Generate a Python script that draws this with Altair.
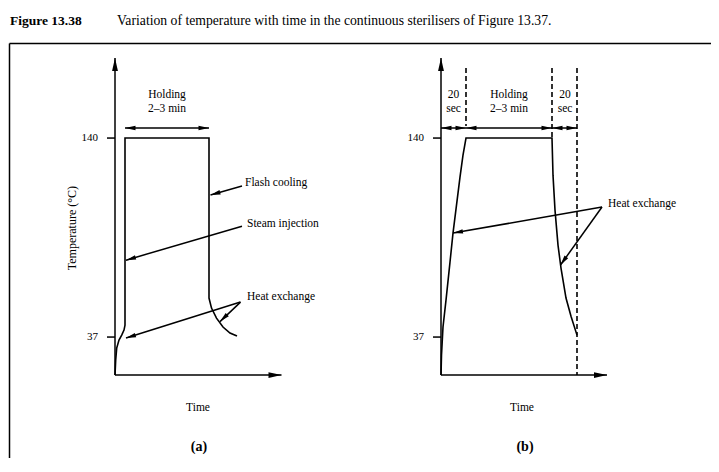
import math
import altair as alt
import pandas as pd

# ---------------- values ----------------
# x: schematic time units (both panels on one time line), y: temperature (°C)
X_DOMAIN = [0, 702]
Y_DOMAIN = [-25.6, 189.2]
TICK_TEMPS = [140, 37]

# panel frames (origin of time axis, base level, arrow tips)
PANEL_X0 = [106, 432]
PANEL_XEND = [272.5, 598]
BASE_T = 17.3
TOP_T = 181.4
TICK_START = [98, 424]
TICK_LABEL_X = [89, 415]

# temperature profile (a): heat exchange + steam injection, holding, flash cooling, heat exchange
curve_a_x = [106, 106.7, 107.7, 110, 112.7, 115, 116, 116, 200, 200, 202.5, 207.5, 214, 221, 228]
curve_a_y = [17.3, 25.1, 31.3, 35.4, 38.0, 40.6, 43.2, 140, 140, 57.2, 52.0, 46.8, 42.2, 39.1, 37.5]
# temperature profile (b): heat exchange up, holding, heat exchange down
curve_b_x = [432, 432.5, 434, 437, 441, 444, 447.5, 451, 454, 457, 543, 544, 546, 549, 552, 557, 562, 568]
curve_b_y = [17.3, 27.7, 42.2, 56.1, 75.8, 90.8, 105.3, 119.8, 131.2, 140, 140, 120.8, 102.7, 84.6,
             72.7, 57.2, 47.8, 38.0]

# dashed phase boundaries in (b)
dash_x = [457, 543, 568]
dash_top = [176.2, 176.2, 176.2]
dash_bottom = [146.2, 140, 17.3]

# double-headed span arrows (holding / 20 sec)
span_from = [116, 432, 457, 543]
span_to = [200, 457, 543, 568]
SPAN_T = 145.2

# annotation arrows: from label to curve
ann_x1 = [233, 233, 231.5, 231.5, 593, 593]
ann_y1 = [115.2, 94.4, 55.1, 55.1, 104.3, 104.3]
ann_x2 = [201.5, 117, 117, 211, 444, 551.5]
ann_y2 = [110.5, 76.8, 36.5, 45.0, 90.8, 74.3]

# texts
center_text = ["Holding", "2–3 min", "20", "sec", "Holding", "2–3 min", "20", "sec", "Time", "Time"]
center_x = [158, 158, 444.5, 444.5, 500, 500, 556, 556, 189, 513]
center_y = [162.3, 154.8, 162.3, 154.8, 162.3, 154.8, 162.3, 154.8, 0.5, 0.5]

left_text = ["Flash cooling", "Steam injection", "Heat exchange", "Heat exchange"]
left_x = [236, 238, 238, 599]
left_y = [116.7, 95.5, 57.7, 105.8]

panel_text = ["(a)", "(b)"]
panel_x = [190, 516]
panel_y = [-20.0, -20.0]

y_title = "Temperature (°C)"
y_title_pos = (63, 93.4)

caption_bold = "Figure 13.38"
caption_text = "Variation of temperature with time in the continuous sterilisers of Figure 13.37."
caption_x = [1, 108]
caption_y = 200.6

# ---------------- build tables ----------------
WIDTH, HEIGHT = 702, 415
SX = WIDTH / (X_DOMAIN[1] - X_DOMAIN[0])
SY = HEIGHT / (Y_DOMAIN[1] - Y_DOMAIN[0])

lines = pd.DataFrame(
    [{"path": "a", "order": i, "x": x, "y": y} for i, (x, y) in enumerate(zip(curve_a_x, curve_a_y))]
    + [{"path": "b", "order": i, "x": x, "y": y} for i, (x, y) in enumerate(zip(curve_b_x, curve_b_y))]
)

rules = []
heads = []


def head_angle(x1, y1, x2, y2):
    dx = (x2 - x1) * SX
    dy = (y2 - y1) * SY
    return math.degrees(math.atan2(dx, dy)) % 360


for x0, xe in zip(PANEL_X0, PANEL_XEND):
    rules.append({"x": x0, "y": BASE_T, "x2": x0, "y2": TOP_T})
    rules.append({"x": x0, "y": BASE_T, "x2": xe, "y2": BASE_T})
    heads.append({"x": x0, "y": TOP_T, "angle": 0, "size": 169})
    heads.append({"x": xe, "y": BASE_T, "angle": 90, "size": 169})
for ts, x0 in zip(TICK_START, PANEL_X0):
    for t in TICK_TEMPS:
        rules.append({"x": ts, "y": t, "x2": x0, "y2": t})
for a, b in zip(span_from, span_to):
    rules.append({"x": a, "y": SPAN_T, "x2": b, "y2": SPAN_T})
    heads.append({"x": a, "y": SPAN_T, "angle": 270, "size": 110})
    heads.append({"x": b, "y": SPAN_T, "angle": 90, "size": 110})
for x1, y1, x2, y2 in zip(ann_x1, ann_y1, ann_x2, ann_y2):
    rules.append({"x": x1, "y": y1, "x2": x2, "y2": y2})
    heads.append({"x": x2, "y": y2, "angle": head_angle(x1, y1, x2, y2), "size": 100})

rules = pd.DataFrame(rules)
heads = pd.DataFrame(heads)
dashes = pd.DataFrame({"x": dash_x, "y": dash_top, "x2": dash_x, "y2": dash_bottom})

ticks = pd.DataFrame(
    [{"x": lx, "y": t, "label": str(t)} for lx in TICK_LABEL_X for t in TICK_TEMPS]
)
centers = pd.DataFrame({"x": center_x, "y": center_y, "label": center_text})
lefts = pd.DataFrame({"x": left_x, "y": left_y, "label": left_text})
panels = pd.DataFrame({"x": panel_x, "y": panel_y, "label": panel_text})
ytitle = pd.DataFrame({"x": [y_title_pos[0]], "y": [y_title_pos[1]], "label": [y_title]})
cap_b = pd.DataFrame({"x": [caption_x[0]], "y": [caption_y], "label": [caption_bold]})
cap_n = pd.DataFrame({"x": [caption_x[1]], "y": [caption_y], "label": [caption_text]})

# ---------------- encodings ----------------
FONT = "Liberation Serif"
INK = "#000000"
XS = alt.Scale(domain=X_DOMAIN, nice=False, zero=False)
YS = alt.Scale(domain=Y_DOMAIN, nice=False, zero=False)
XAX = alt.Axis(orient="top", domain=True, domainColor=INK, domainWidth=1.5, ticks=False,
               labels=False, grid=False, title=None)
YAX = alt.Axis(orient="left", domain=True, domainColor=INK, domainWidth=1.5, ticks=False,
               labels=False, grid=False, title=None)


def X(f="x"):
    return alt.X(f"{f}:Q", scale=XS, axis=XAX)


def Y(f="y"):
    return alt.Y(f"{f}:Q", scale=YS, axis=YAX)


curves = alt.Chart(lines).mark_line(color=INK, strokeWidth=1.6).encode(
    x=X(), y=Y(), detail="path:N", order="order:Q"
)
solid = alt.Chart(rules).mark_rule(color=INK, strokeWidth=1.5).encode(
    x=X(), y=Y(), x2="x2:Q", y2="y2:Q"
)
dashed = alt.Chart(dashes).mark_rule(color=INK, strokeWidth=1.6, strokeDash=[5, 3]).encode(
    x=X(), y=Y(), x2="x2:Q", y2="y2:Q"
)
arrowheads = alt.Chart(heads).mark_point(
    shape="M0,0L0.45,2L-0.45,2Z", filled=True, color=INK, opacity=1, strokeWidth=0
).encode(
    x=X(), y=Y(), angle=alt.Angle("angle:Q", scale=None), size=alt.Size("size:Q", scale=None)
)

tick_labels = alt.Chart(ticks).mark_text(font=FONT, fontSize=11, align="right",
                                         baseline="middle", color=INK).encode(
    x=X(), y=Y(), text="label:N")
center_labels = alt.Chart(centers).mark_text(font=FONT, fontSize=11.5, align="center",
                                             baseline="middle", color=INK).encode(
    x=X(), y=Y(), text="label:N")
left_labels = alt.Chart(lefts).mark_text(font=FONT, fontSize=11.5, align="left",
                                         baseline="middle", color=INK).encode(
    x=X(), y=Y(), text="label:N")
panel_labels = alt.Chart(panels).mark_text(font=FONT, fontSize=14, fontWeight="bold",
                                           align="center", baseline="middle", color=INK).encode(
    x=X(), y=Y(), text="label:N")
y_label = alt.Chart(ytitle).mark_text(font=FONT, fontSize=12, angle=270, align="center",
                                      baseline="middle", color=INK).encode(
    x=X(), y=Y(), text="label:N")
caption_bold_t = alt.Chart(cap_b).mark_text(font=FONT, fontSize=13.5, fontWeight="bold",
                                            align="left", baseline="middle", color=INK).encode(
    x=X(), y=Y(), text="label:N")
caption_norm_t = alt.Chart(cap_n).mark_text(font=FONT, fontSize=13.7, align="left",
                                            baseline="middle", color=INK).encode(
    x=X(), y=Y(), text="label:N")

chart = alt.layer(
    curves, solid, dashed, arrowheads, tick_labels, center_labels, left_labels,
    panel_labels, y_label, caption_bold_t, caption_norm_t
).properties(
    width=WIDTH,
    height=HEIGHT,
    autosize=alt.AutoSizeParams(type="none"),
    padding={"left": 1, "top": 35, "right": 0, "bottom": 0},
).configure_view(stroke="transparent", strokeWidth=0)

chart.save("out.html", embed_options={"renderer": "svg", "actions": False})
